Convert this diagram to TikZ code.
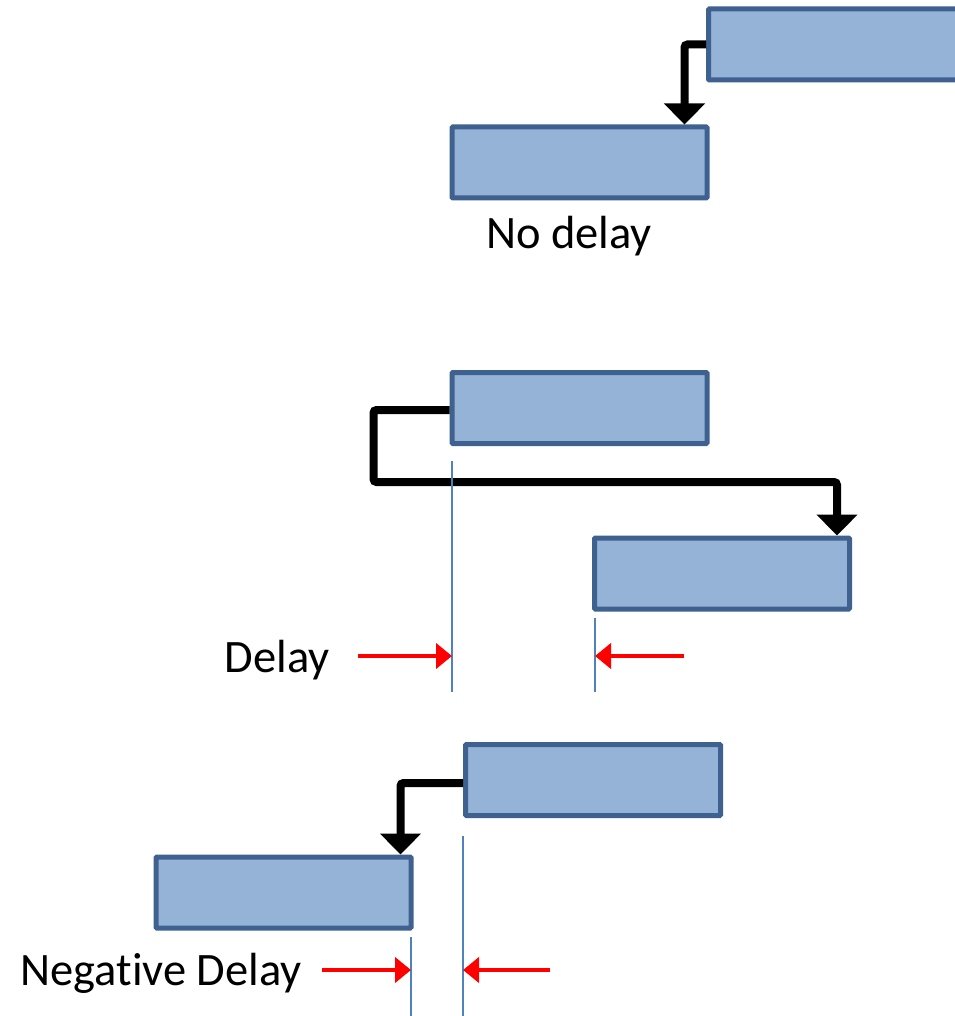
\documentclass[tikz,border=0pt]{standalone}
\usepackage{fontspec}
\setmainfont[Ligatures=NoCommon]{Carlito}
\usetikzlibrary{arrows.meta}

\definecolor{barfill}{HTML}{95B3D7}
\definecolor{barline}{HTML}{3F6190}
\definecolor{guideblue}{HTML}{4F81BD}

\tikzset{
  bar/.style={draw=barline,fill=barfill,line width=5pt,rounded corners=1pt,
    minimum width=255pt,minimum height=71pt,inner sep=0pt},
  dep/.style={line width=8pt,rounded corners=3pt,-{Triangle[width=40pt,length=21pt]}},
  gap/.style={red,line width=4pt,-{Triangle[width=25pt,length=16pt]}},
  guide/.style={guideblue,line width=1.5pt},
  lbl/.style={font=\fontsize{46.5}{56}\selectfont,anchor=base,inner sep=0pt}
}

\begin{document}
\begin{tikzpicture}[x=1pt,y=-1pt]
\useasboundingbox (0,0) rectangle (954,1016);

% no delay
\node[bar] (a) at (836,44.5) {};
\node[bar] (b) at (579.5,162.5) {};
\draw[dep] (a.west) -| ([xshift=-25pt]b.north east);
\node[lbl] (nodelay) at (569,248) {No delay};

% delay
\node[bar] (c) at (579.5,408) {};
\node[bar] (d) at (722,573.5) {};
\draw[dep] ([yshift=-2pt]c.west) -| ++(-76,72) -| ([xshift=-15pt]d.north east);

\coordinate (c1) at (452,461);
\coordinate (c2) at (452,692);
\coordinate (d1) at (595,618);
\coordinate (d2) at (595,692);
\draw[guide] (c1) -- (c2);
\draw[guide] (d1) -- (d2);

\node[lbl,anchor=base east] (delay) at (330,672) {Delay};
\draw[gap] ([xshift=28pt,yshift=16pt]delay.base east) -- (c2 |- 0,656);
\draw[gap] (684,656) -- (d2 |- 0,656);

% negative delay
\node[bar] (e) at (593,780) {};
\node[bar] (f) at (283.5,892.5) {};
\draw[dep] ([yshift=-3pt]e.west) -| ([xshift=-13pt]f.north east);

\coordinate (f1) at (411,937);
\coordinate (f2) at (411,1016);
\coordinate (e1) at (463,836);
\coordinate (e2) at (463,1016);
\draw[guide] (f1) -- (f2);
\draw[guide] (e1) -- (e2);

\node[lbl,anchor=base east] (negdelay) at (302,985) {Negative Delay};
\draw[gap] ([xshift=20pt,yshift=15pt]negdelay.base east) -- (f2 |- 0,970);
\draw[gap] (550,970) -- (e2 |- 0,970);

\end{tikzpicture}
\end{document}
